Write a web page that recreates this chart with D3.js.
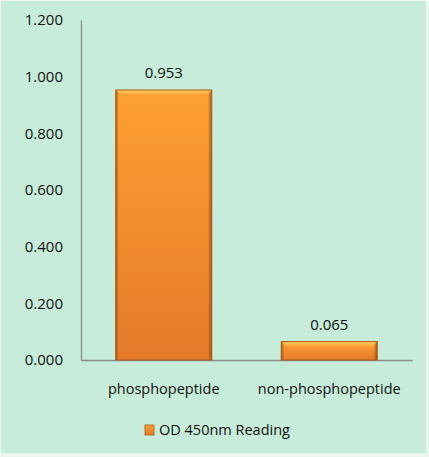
<!DOCTYPE html>
<html>
<head>
<meta charset="utf-8">
<script src="https://cdn.jsdelivr.net/npm/d3@7"></script>
<style>
  html, body { margin: 0; padding: 0; background: #fff; }
  svg { display: block; }
  text { font-family: "Open Sans", "Noto Sans", sans-serif; fill: #111; }
</style>
</head>
<body>
<svg id="chart"></svg>
<script>
// data
const categories = ["phosphopeptide", "non-phosphopeptide"];
const values = [0.953, 0.065];
const valueLabels = ["0.953", "0.065"];
const yTicks = [0, 0.2, 0.4, 0.6, 0.8, 1.0, 1.2];
const seriesName = "OD 450nm Reading";

const W = 429, H = 457;
const margin = { top: 20, right: 17, bottom: 97, left: 81 };

const svg = d3.select("#chart").attr("width", W).attr("height", H);

// background panel
svg.append("rect").attr("width", W).attr("height", H).attr("fill", "#e9f7ee");
svg.append("rect").attr("x", 1).attr("y", 1).attr("width", W - 4).attr("height", H - 5)
    .attr("fill", "#c7ecd9");

const defs = svg.append("defs");
const vg = defs.append("linearGradient").attr("id", "barV").attr("x1", 0).attr("y1", 0).attr("x2", 0).attr("y2", 1);
vg.append("stop").attr("offset", "0%").attr("stop-color", "#ffa033");
vg.append("stop").attr("offset", "100%").attr("stop-color", "#e37b29");
const hg = defs.append("linearGradient").attr("id", "barH").attr("x1", 0).attr("y1", 0).attr("x2", 1).attr("y2", 0);
hg.append("stop").attr("offset", "0%").attr("stop-color", "#7a3a08").attr("stop-opacity", 0.7);
hg.append("stop").attr("offset", "3%").attr("stop-color", "#7a3a08").attr("stop-opacity", 0);
hg.append("stop").attr("offset", "96%").attr("stop-color", "#7a3a08").attr("stop-opacity", 0);
hg.append("stop").attr("offset", "100%").attr("stop-color", "#7a3a08").attr("stop-opacity", 0.7);
const tg = defs.append("linearGradient").attr("id", "barTop").attr("x1", 0).attr("y1", 0).attr("x2", 0).attr("y2", 1);
tg.append("stop").attr("offset", "0%").attr("stop-color", "#ffd060");
tg.append("stop").attr("offset", "100%").attr("stop-color", "#ffa033");

const width = W - margin.left - margin.right,
    height = H - margin.top - margin.bottom;

const g = svg.append("g").attr("transform", "translate(" + margin.left + "," + margin.top + ")");

const x = d3.scaleBand().domain(categories).range([0, width])
    .paddingInner(0.42).paddingOuter(0.21);
const y = d3.scaleLinear().domain([0, 1.2]).range([height, 0]);

// y axis: plain line + labels
const yAxis = d3.axisLeft(y).tickValues(yTicks).tickSize(0).tickPadding(18)
    .tickFormat(d3.format(".3f"));
g.append("g").call(yAxis)
    .call(s => s.select(".domain").attr("stroke", "#8c8c8c").attr("stroke-width", 1.3))
    .call(s => s.selectAll("text").attr("font-size", 15).style("font-family", "'Open Sans', sans-serif").attr("fill", "#111"));

// x axis
const xAxis = d3.axisBottom(x).tickSize(0).tickPadding(24);
g.append("g").attr("transform", "translate(0," + height + ")").call(xAxis)
    .call(s => s.select(".domain").attr("stroke", "#8c8c8c").attr("stroke-width", 1.3))
    .call(s => s.selectAll("text").attr("font-size", 14.5).style("font-family", "'Open Sans', sans-serif").attr("fill", "#111"));

// bars
const bars = g.selectAll(".bar").data(values).enter().append("g").attr("class", "bar");
bars.append("rect")
    .attr("x", (d, i) => x(categories[i]))
    .attr("y", d => y(d))
    .attr("width", x.bandwidth())
    .attr("height", d => height - y(d))
    .attr("fill", "url(#barV)");
bars.append("rect")
    .attr("x", (d, i) => x(categories[i]))
    .attr("y", d => y(d))
    .attr("width", x.bandwidth())
    .attr("height", d => height - y(d))
    .attr("fill", "url(#barH)");
bars.append("path")
    .attr("d", (d, i) => {
        const x0 = x(categories[i]), x1 = x0 + x.bandwidth(), y0 = y(d);
        return "M" + x0 + "," + y0 + "L" + x1 + "," + y0 + "L" + (x1 - 5) + "," + (y0 + 5) +
            "L" + (x0 + 5) + "," + (y0 + 5) + "Z";
    })
    .attr("fill", "url(#barTop)");
bars.append("rect")
    .attr("x", (d, i) => x(categories[i]))
    .attr("y", d => y(d))
    .attr("width", x.bandwidth())
    .attr("height", d => height - y(d))
    .attr("fill", "none").attr("stroke", "#a85a1a").attr("stroke-width", 1);

// value labels
g.selectAll(".val").data(values).enter().append("text")
    .attr("x", (d, i) => x(categories[i]) + x.bandwidth() / 2)
    .attr("y", d => y(d) - 12)
    .attr("text-anchor", "middle")
    .attr("font-size", 15)
    .text((d, i) => valueLabels[i]);

// legend
const leg = svg.append("g").attr("transform", "translate(145,425)");
leg.append("rect").attr("width", 9).attr("height", 10).attr("fill", "url(#barV)")
    .attr("stroke", "#a85a1a").attr("stroke-width", 0.8);
leg.append("text").attr("x", 14).attr("y", 5).attr("dy", "0.35em")
    .attr("font-size", 14.5).text(seriesName);
</script>
</body>
</html>
